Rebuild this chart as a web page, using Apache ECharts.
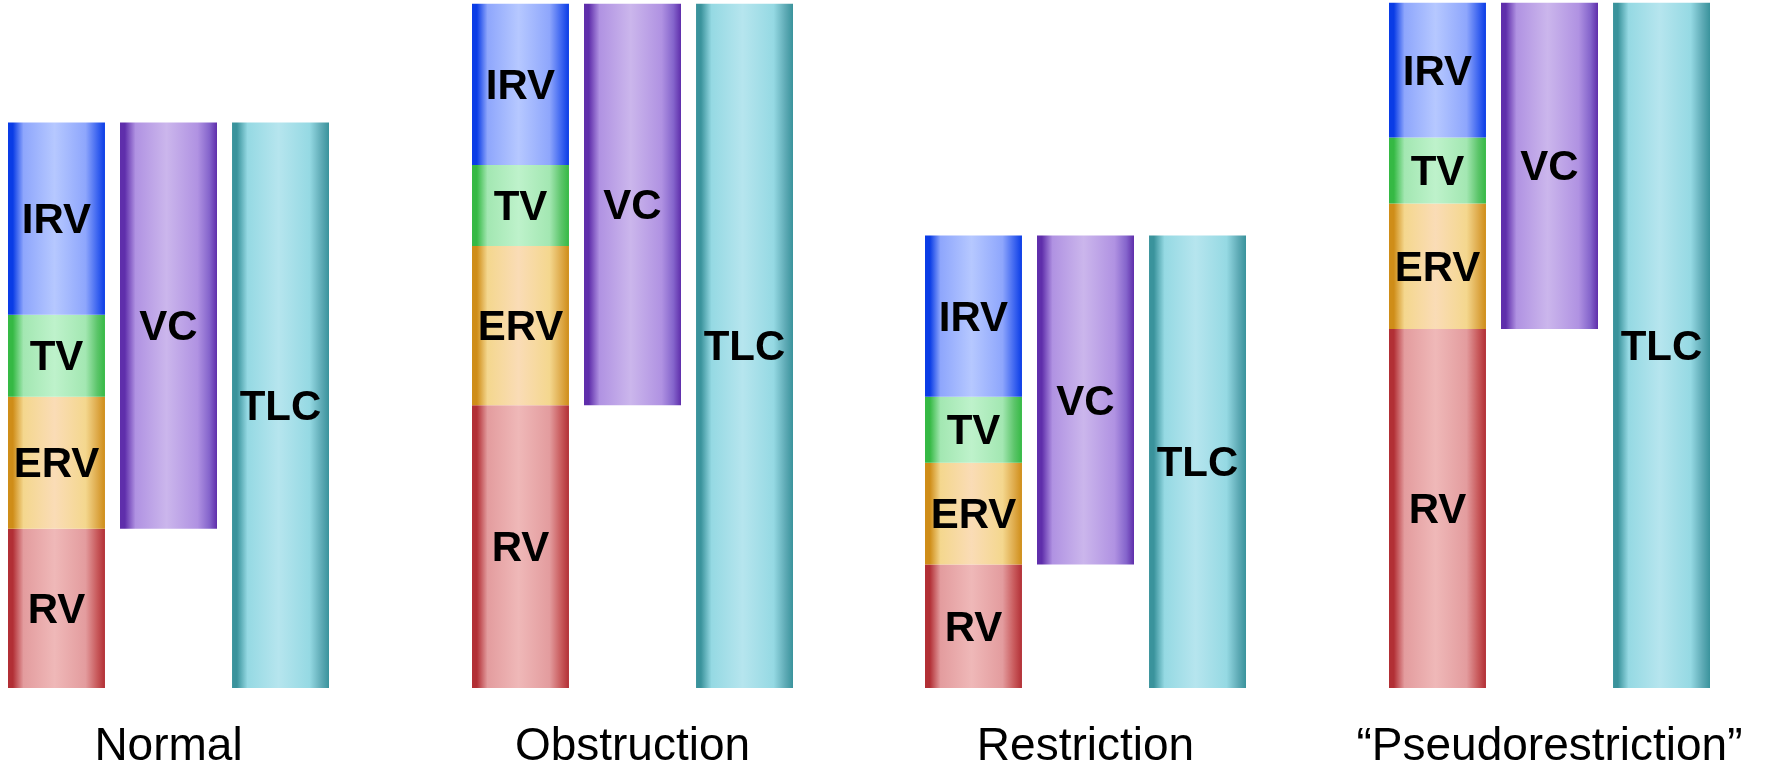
<!DOCTYPE html>
<html>
<head>
<meta charset="utf-8">
<script src="https://cdn.jsdelivr.net/npm/echarts@6/dist/echarts.min.js"></script>
<style>
html,body{margin:0;padding:0;background:#fff;}
#chart{width:1767px;height:765px;}
</style>
</head>
<body>
<div id="chart"></div>
<script>
// Lung volumes (litres)
const categories = ['Normal', 'Obstruction', 'Restriction', '\u201cPseudorestriction\u201d'];
const RV  = [1.69, 3.00, 1.31, 3.81];
const ERV = [1.40, 1.69, 1.08, 1.33];
const TV  = [0.87, 0.86, 0.70, 0.70];
const IRV = [2.04, 1.71, 1.71, 1.43];
const VC  = [4.31, 4.26, 3.49, 3.46];
const TLC = [6.00, 7.26, 4.80, 7.27];

const groupLeft = [8, 472, 925, 1389];

function grad(edge, mid, light, edge2) {
  return {
    type: 'linear', x: 0, y: 0, x2: 1, y2: 0,
    colorStops: [
      {offset: 0, color: edge},
      {offset: 0.05, color: edge},
      {offset: 0.16, color: mid},
      {offset: 0.48, color: light},
      {offset: 0.80, color: mid},
      {offset: 0.92, color: edge2 || edge},
      {offset: 1, color: edge}
    ]
  };
}
const colors = {
  IRV: grad('#0a3ce6', '#8ea6fc', '#b6c8ff', '#3e66f0'),
  TV:  grad('#35b944', '#a3e7b2', '#bef2cb', '#5cc56a'),
  ERV: grad('#cf8d18', '#f4d78e', '#fadcb6', '#deaa4a'),
  RV:  grad('#b22f35', '#e39c9e', '#efb8b8', '#c8595b'),
  VC:  grad('#5f2eab', '#b092e2', '#cbb6ec', '#8565cc'),
  TLC: grad('#3a939c', '#95d9e3', '#b6e5ee', '#5fabb6')
};

const labelStyle = {
  show: true, position: 'inside', formatter: '{a}', offset: [0, 3],
  color: '#000', fontSize: 42, fontWeight: 'bold',
  fontFamily: '"Liberation Sans", Arial, Helvetica, sans-serif'
};

const grids = [], xAxes = [], yAxes = [], series = [];
categories.forEach((cat, i) => {
  grids.push({left: groupLeft[i], width: 321, top: 0, bottom: 77,
              containLabel: false, outerBoundsMode: 'none'});
  xAxes.push({
    type: 'category', gridIndex: i, data: [cat],
    axisLine: {show: false}, axisTick: {show: false}, splitLine: {show: false},
    axisLabel: {
      color: '#000', fontSize: 46, margin: 36, interval: 0,
      fontFamily: '"Liberation Sans", Arial, Helvetica, sans-serif'
    }
  });
  yAxes.push({type: 'value', gridIndex: i, min: 0, max: 7.3, show: false, splitLine: {show: false}});
  const common = {type: 'bar', xAxisIndex: i, yAxisIndex: i, barWidth: 97, barGap: '15.5%', animation: false};
  [['RV', RV], ['ERV', ERV], ['TV', TV], ['IRV', IRV]].forEach(([name, arr]) => {
    series.push(Object.assign({}, common, {
      name: name, stack: 'parts' + i, data: [arr[i]],
      itemStyle: {color: colors[name]}, label: labelStyle
    }));
  });
  series.push(Object.assign({}, common, {
    name: 'base', stack: 'vc' + i, data: [RV[i]],
    itemStyle: {color: 'rgba(0,0,0,0)'}, label: {show: false}, silent: true
  }));
  series.push(Object.assign({}, common, {
    name: 'VC', stack: 'vc' + i, data: [VC[i]],
    itemStyle: {color: colors.VC}, label: labelStyle
  }));
  series.push(Object.assign({}, common, {
    name: 'TLC', data: [TLC[i]],
    itemStyle: {color: colors.TLC}, label: labelStyle
  }));
});

const chart = echarts.init(document.getElementById('chart'), null, {renderer: 'canvas'});
chart.setOption({
  backgroundColor: '#fff',
  animation: false,
  grid: grids, xAxis: xAxes, yAxis: yAxes, series: series
});
</script>
</body>
</html>
